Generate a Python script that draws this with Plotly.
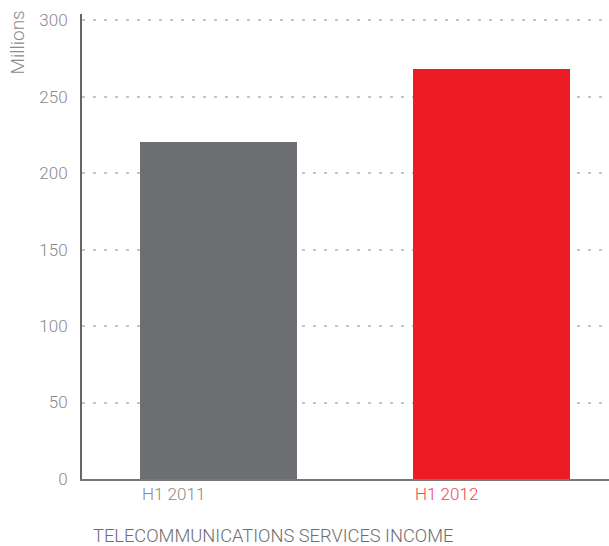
import plotly.graph_objects as go

categories = ["H1 2011", "H1 2012"]
values = [220, 268]
bar_colors = ["#6d6e71", "#ed1c24"]
label_colors = ["#8a8a8c", "#f04850"]
y_ticks = [0, 50, 100, 150, 200, 250, 300]

BAR_W = 0.575
xs = list(range(len(categories)))

fig = go.Figure()
fig.add_trace(go.Bar(x=xs, y=values, width=BAR_W, marker=dict(color=bar_colors, line=dict(width=0)),
                     hoverinfo="skip"))

font_family = "Roboto"
for i, (c, col) in enumerate(zip(categories, label_colors)):
    fig.add_annotation(x=i - BAR_W / 2, y=0, xref="x", yref="y", text=c, showarrow=False,
                       xanchor="left", yanchor="top", yshift=-3,
                       font=dict(family=font_family, size=17, color=col, weight=300))

fig.add_annotation(x=0, y=1, xref="paper", yref="paper", text="Millions", showarrow=False,
                   textangle=-90, xanchor="right", yanchor="top", xshift=-52, yshift=5,
                   font=dict(family=font_family, size=19, color="#8a8a8c", weight=300))
fig.add_annotation(x=0, y=0, xref="paper", yref="paper", text="TELECOMMUNICATIONS SERVICES INCOME",
                   showarrow=False, xanchor="left", yanchor="middle", xshift=9, yshift=-56,
                   font=dict(family=font_family, size=18.3, color="#6d6e71", weight=300))

fig.update_layout(
    width=609, height=546,
    margin=dict(l=82, r=0, t=14, b=67),
    paper_bgcolor="white", plot_bgcolor="white",
    showlegend=False,
    bargap=0,
    xaxis=dict(range=[-0.5, 1.43], showticklabels=False, showgrid=False, zeroline=False,
               showline=True, linecolor="#777777", linewidth=2, fixedrange=True),
    yaxis=dict(range=[0, 304], tickvals=y_ticks, showgrid=True, gridcolor="#c4c4c4",
               griddash="3px,8px", gridwidth=1.5, zeroline=False,
               showline=True, linecolor="#666666", linewidth=2,
               ticks="", ticklabelstandoff=9,
               tickfont=dict(family=font_family, size=17, color="#8a8a8c", weight=300)),
)

fig.write_html("out.html")
